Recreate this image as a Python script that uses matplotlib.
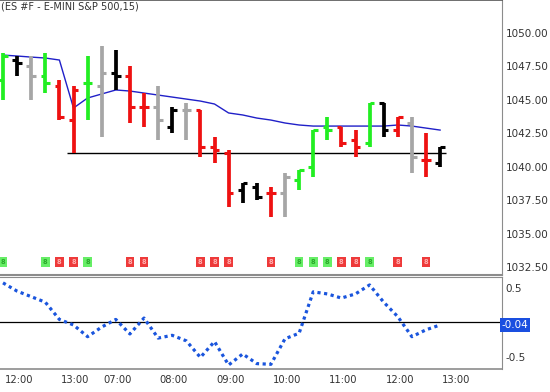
import matplotlib
matplotlib.use('Agg')
import matplotlib.pyplot as plt

# ---------------- data ----------------
title = "(ES #F - E-MINI S&P 500,15)"
opens  = [1046.50, 1048.00, 1047.50, 1046.75, 1046.00, 1043.50, 1046.25, 1046.00,
          1047.00, 1046.75, 1044.50, 1044.50, 1043.00, 1044.25, 1044.25, 1041.50,
          1041.00, 1038.25, 1038.50, 1038.00, 1038.00, 1039.00, 1040.00, 1043.00,
          1043.00, 1042.00, 1041.75, 1044.75, 1042.75, 1043.25, 1040.50, 1040.25]
highs  = [1048.50, 1048.25, 1048.25, 1048.50, 1046.50, 1046.00, 1048.25, 1049.00,
          1048.75, 1047.50, 1045.50, 1046.00, 1044.50, 1044.75, 1044.25, 1042.25,
          1041.25, 1038.75, 1038.75, 1038.50, 1039.50, 1039.75, 1042.75, 1043.75,
          1043.00, 1042.75, 1044.75, 1044.75, 1043.75, 1043.75, 1042.50, 1041.50]
lows   = [1045.00, 1046.75, 1045.00, 1045.50, 1043.50, 1041.00, 1043.50, 1042.25,
          1045.75, 1043.25, 1043.00, 1042.00, 1042.50, 1042.00, 1040.75, 1040.25,
          1037.00, 1037.25, 1037.50, 1036.25, 1036.25, 1038.25, 1039.25, 1042.00,
          1041.50, 1040.75, 1041.50, 1042.25, 1042.25, 1039.50, 1039.25, 1040.00]
closes = [1048.25, 1047.75, 1046.75, 1046.25, 1043.75, 1045.75, 1046.25, 1047.00,
          1046.75, 1044.50, 1044.50, 1043.50, 1044.25, 1044.25, 1041.50, 1041.25,
          1038.00, 1038.75, 1037.75, 1038.00, 1039.25, 1039.75, 1042.75, 1042.75,
          1041.75, 1041.50, 1044.75, 1042.75, 1043.75, 1040.75, 1040.50, 1041.50]
bar_colors = ['g', 'k', 'a', 'g', 'r', 'r', 'g', 'a', 'k', 'r', 'r', 'a', 'k', 'a', 'r', 'r',
              'r', 'k', 'k', 'r', 'a', 'g', 'g', 'g', 'r', 'r', 'g', 'k', 'r', 'a', 'r', 'k']
vwap = [1048.35, 1048.28, 1048.20, 1048.13, 1047.98, 1044.39, 1045.14, 1045.44,
        1045.74, 1045.66, 1045.51, 1045.36, 1045.21, 1045.06, 1044.91, 1044.69,
        1044.02, 1043.87, 1043.64, 1043.49, 1043.27, 1043.12, 1043.04, 1043.04,
        1043.04, 1043.04, 1043.04, 1043.04, 1043.12, 1043.04, 1042.89, 1042.74]
ref_level = 1041.00
signal_bars   = [0, 3, 4, 5, 6, 9, 10, 14, 15, 16, 19, 21, 22, 23, 24, 25, 26, 28, 30]
signal_colors = ['g', 'g', 'r', 'r', 'g', 'r', 'r', 'r', 'r', 'r', 'r', 'g', 'g', 'g', 'r', 'r', 'g', 'r', 'r']
signal_level = 1032.90
osc = [0.57, 0.45, 0.37, 0.29, 0.04, -0.04, -0.21, -0.07, 0.04, -0.17, 0.06, -0.23,
       -0.19, -0.27, -0.51, -0.28, -0.62, -0.46, -0.60, -0.61, -0.24, -0.16, 0.44, 0.41,
       0.35, 0.41, 0.54, 0.29, 0.08, -0.21, -0.11, -0.04]
time_ticks = [0, 4, 7, 11, 15, 19, 23, 27, 31]
time_labels = ['12:00', '13:00', '07:00', '08:00', '09:00', '10:00', '11:00', '12:00', '13:00']
price_ticks = [1032.5, 1035.0, 1037.5, 1040.0, 1042.5, 1045.0, 1047.5, 1050.0]
osc_ticks = [0.5, -0.5]
osc_tick_labels = ['0.5', '-0.5']

# ---------------- style ----------------
cmap = {'g': '#22ee22', 'r': '#ee1111', 'a': '#a6a6a6', 'k': '#000000'}
sig_fc = {'g': '#66ee66', 'r': '#ee3a3a'}
sig_tc = {'g': '#2aa82a', 'r': '#ffb0b0'}
axis_gray = '#8c8c8c'
text_col = '#333333'

W, H = 550, 392
fig = plt.figure(figsize=(W / 100, H / 100), dpi=100)
ax = fig.add_axes([0, 1 - 275 / H, 502 / W, 275 / H])
ax2 = fig.add_axes([0, 1 - 369 / H, 502 / W, 92 / H])

pitch = 14.1
xlim = (-3 / pitch, 499 / pitch)

# price bars
tick_len = 0.34
for i in range(len(opens)):
    c = cmap[bar_colors[i]]
    ax.vlines(i, lows[i], highs[i], color=c, lw=2.7, capstyle='butt', zorder=3)
    ax.hlines(opens[i], i - tick_len, i, color=c, lw=2.2, capstyle='butt', zorder=3)
    ax.hlines(closes[i], i, i + tick_len, color=c, lw=2.2, capstyle='butt', zorder=3)

ax.plot(range(len(vwap)), vwap, color='#2020c8', lw=1.0, zorder=2)
ax.hlines(ref_level, 4.55, 31.4, color='black', lw=1.0, zorder=1)

for b, cc in zip(signal_bars, signal_colors):
    ax.text(b, signal_level, '8', fontsize=4.8, ha='center', va='center',
            color=sig_tc[cc], fontweight='bold',
            bbox=dict(boxstyle='square,pad=0.3', fc=sig_fc[cc], ec='none'))

ax.set_xlim(*xlim)
ax.set_ylim(1031.9, 1052.47)
ax.yaxis.tick_right()
ax.set_yticks(price_ticks)
ax.set_yticklabels([f"{v:.2f}" for v in price_ticks])
ax.tick_params(axis='y', length=0, pad=2.5, labelsize=7.5, labelcolor=text_col)
ax.set_xticks([])
ax.spines['left'].set_visible(False)
ax.spines['top'].set_color('#555555')
ax.spines['top'].set_linewidth(1.2)
ax.spines['right'].set_color(axis_gray)
ax.spines['bottom'].set_color(axis_gray)
ax.spines['bottom'].set_linewidth(1.5)

ax.text(0.001, 0.995, title, transform=ax.transAxes, ha='left', va='top',
        fontsize=7.0, color=text_col)

# oscillator panel
ax2.axhline(0, color='black', lw=0.9, zorder=1)
ax2.plot(range(len(osc)), osc, color='#1a55dd', lw=2.3,
         linestyle=(0, (1, 1.1)), dash_capstyle='butt', zorder=2)
ax2.set_xlim(*xlim)
ax2.set_ylim(-0.678, 0.655)
ax2.yaxis.tick_right()
ax2.set_yticks(osc_ticks)
ax2.set_yticklabels(osc_tick_labels)
ax2.tick_params(axis='y', length=0, pad=2.5, labelsize=7.5, labelcolor=text_col)
ax2.set_xticks([t + 0.12 for t in time_ticks])
ax2.set_xticklabels(time_labels)
for lbl in ax2.get_xticklabels():
    lbl.set_horizontalalignment('left')
ax2.tick_params(axis='x', length=0, pad=4, labelsize=7.2, labelcolor=text_col)
ax2.spines['left'].set_visible(False)
for s in ['top', 'bottom', 'right']:
    ax2.spines[s].set_color(axis_gray)
ax2.spines['bottom'].set_linewidth(1.2)

last = osc[-1]
ax2.text(1.0, last, f"{last:.2f}", transform=ax2.get_yaxis_transform(),
         ha='left', va='center', fontsize=7.5, color='white',
         bbox=dict(boxstyle='square,pad=0.15', fc='#1a4fe0', ec='none'))

fig.savefig('out.png', dpi=100, facecolor='white')
